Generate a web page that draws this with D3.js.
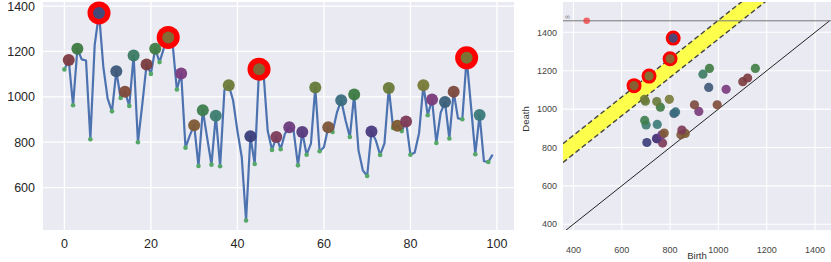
<!DOCTYPE html>
<html><head><meta charset="utf-8">
<script src="https://cdn.jsdelivr.net/npm/d3@7"></script>
<style>
body{margin:0;background:#fff;}
text{font-family:"Liberation Sans",Arial,sans-serif;}
</style></head>
<body><svg id="c" width="831" height="262"></svg>
<script>
// ---- data ----
const series = [1121,1162,963,1212,1165,1160,813,1228,1370,1132,
  992,936,1113,995,1022,960,1182,800,966,1143,
  1101,1212,1153,1215,1262,1238,1032,1103,776,830,
  875,695,941,820,701,917,694,1030,1051,985,
  850,735,455,826,704,1122,1115,850,766,823,
  769,838,866,850,698,845,745,794,1041,760,
  778,866,845,930,985,897,823,1010,764,676,
  651,847,808,744,795,1039,863,873,849,891,
  745,755,840,1051,919,988,797,930,977,816,
  1022,905,901,1172,960,747,920,716,713,745];
const minIdx = [0,2,6,11,13,15,17,20,22,26,28,31,34,36,42,44,48,50,54,56,59,62,66,70,73,76,78,80,84,86,89,92,95,98];
const maxIdx = [1,3,8,12,14,16,19,21,24,27,30,32,35,38,43,45,49,52,55,58,61,64,67,71,75,77,79,83,85,88,90,93,96];
const maxColors = ["#7d3a40","#3d7a40","#3b4d80","#3d5878","#804a38","#3b7a62","#7a3c3c","#3f7d45","#7d7038","#7a3a7d",
  "#7d5a35","#3d7d4d","#3d7d70","#6d7a38","#3a3d7a","#7a6a38","#7d3a58","#6d3a7d","#563a7d","#657a38",
  "#7d5538","#3a6d7d","#3d7a40","#4a3a7d","#687a38","#7d5a30","#7d3a55","#787a38","#7a3a7a","#3a5f7a",
  "#7d4a3d","#757a38","#3a7a78"];
const xTicksL = [0,20,40,60,80,100];
const yTicksL = [600,800,1000,1200,1400];
const ticksR = [400,600,800,1000,1200,1400];
const infValue = 1460;
const bandLow = 365, bandHigh = 463;

// ---- persistence pairs (sublevel filtration) ----
function persistence(v){
  const n=v.length, parent=new Array(n).fill(-1);
  const find=i=>{while(parent[i]!==i){parent[i]=parent[parent[i]];i=parent[i];}return i;};
  const order=d3.range(n).sort((a,b)=>v[a]-v[b]||a-b);
  const pairs=[];
  for(const i of order){
    parent[i]=i;
    const nb=[i-1,i+1].filter(j=>j>=0&&j<n&&parent[j]!==-1).map(find);
    if(nb.length===1){parent[i]=nb[0];}
    else if(nb.length===2){
      let [a,b]=nb; if(v[a]>v[b]||(v[a]===v[b]&&a>b)){[a,b]=[b,a];}
      pairs.push({birth:v[b],death:v[i],maxI:i});
      parent[b]=a; parent[i]=a;
    }
  }
  const g=order[0];
  return {pairs, ess:{birth:v[g]}};
}
const P = persistence(series);
const colorOf = {}; maxIdx.forEach((m,k)=>colorOf[m]=maxColors[k]);
const highlighted = new Set(P.pairs.filter(p=>p.death-p.birth>bandLow).map(p=>p.maxI));

const svg=d3.select("#c");
const bg="#eaeaf2";

// ---- left chart ----
const L={x0:43,x1:514,y0:2,y1:230};
const xL=d3.scaleLinear().domain([-4.95,103.95]).range([L.x0,L.x1]);
const yL=d3.scaleLinear().domain([413,1418]).range([L.y1,L.y0]);
svg.append("rect").attr("x",L.x0).attr("y",L.y0).attr("width",L.x1-L.x0).attr("height",L.y1-L.y0).attr("fill",bg);
const gl=svg.append("g");
gl.selectAll(".gx").data(xTicksL).join("line").attr("x1",d=>xL(d)).attr("x2",d=>xL(d)).attr("y1",L.y0).attr("y2",L.y1).attr("stroke","#fff").attr("stroke-width",1.3);
gl.selectAll(".gy").data(yTicksL).join("line").attr("y1",d=>yL(d)).attr("y2",d=>yL(d)).attr("x1",L.x0).attr("x2",L.x1).attr("stroke","#fff").attr("stroke-width",1.3);
gl.selectAll(".tx").data(xTicksL).join("text").attr("x",d=>xL(d)).attr("y",248).attr("text-anchor","middle").attr("font-size",12.5).attr("fill","#262626").text(d=>d);
gl.selectAll(".ty").data(yTicksL).join("text").attr("x",35).attr("y",d=>yL(d)+4.5).attr("text-anchor","end").attr("font-size",12.5).attr("fill","#262626").text(d=>d);
const clipL=svg.append("clipPath").attr("id","cl").append("rect").attr("x",L.x0).attr("y",L.y0).attr("width",L.x1-L.x0).attr("height",L.y1-L.y0);
const pl=svg.append("g");
pl.append("path").datum(series).attr("d",d3.line().x((d,i)=>xL(i)).y(d=>yL(d))).attr("fill","none").attr("stroke","#4c72b0").attr("stroke-width",2.2).attr("stroke-linejoin","round");
pl.selectAll(".mn").data(minIdx).join("circle").attr("cx",i=>xL(i)).attr("cy",i=>yL(series[i])).attr("r",2.3).attr("fill","#55a868");
pl.selectAll(".hr").data(maxIdx.filter(i=>highlighted.has(i))).join("circle").attr("cx",i=>xL(i)).attr("cy",i=>yL(series[i])).attr("r",11.5).attr("fill","#ff0000");
pl.selectAll(".mx").data(maxIdx).join("circle").attr("cx",i=>xL(i)).attr("cy",i=>yL(series[i])).attr("r",6).attr("fill",i=>colorOf[i]).attr("opacity",0.95);

// ---- right chart (persistence diagram) ----
const R={x0:563,x1:831,y0:2,y1:230};
const xR=d3.scaleLinear().domain([357,1466]).range([R.x0,R.x1]);
const yR=d3.scaleLinear().domain([370,1558]).range([R.y1,R.y0]);
svg.append("rect").attr("x",R.x0).attr("y",R.y0).attr("width",R.x1-R.x0).attr("height",R.y1-R.y0).attr("fill",bg);
svg.append("clipPath").attr("id","cr").append("rect").attr("x",R.x0).attr("y",R.y0).attr("width",R.x1-R.x0).attr("height",R.y1-R.y0);
const gr=svg.append("g");
gr.selectAll(".gx").data(ticksR).join("line").attr("x1",d=>xR(d)).attr("x2",d=>xR(d)).attr("y1",R.y0).attr("y2",R.y1).attr("stroke","#fff").attr("stroke-width",1.1);
gr.selectAll(".gy").data(ticksR).join("line").attr("y1",d=>yR(d)).attr("y2",d=>yR(d)).attr("x1",R.x0).attr("x2",R.x1).attr("stroke","#fff").attr("stroke-width",1.1);
gr.selectAll(".tx").data(ticksR).join("text").attr("x",d=>xR(d)).attr("y",253).attr("text-anchor","middle").attr("font-size",9).attr("fill","#444").text(d=>d);
gr.selectAll(".ty").data(ticksR).join("text").attr("x",557).attr("y",d=>yR(d)+3.2).attr("text-anchor","end").attr("font-size",9).attr("fill","#444").text(d=>d);
svg.append("text").attr("x",697).attr("y",259).attr("text-anchor","middle").attr("font-size",9.5).attr("fill","#333").text("Birth");
svg.append("text").attr("transform","translate(529,119) rotate(-90)").attr("text-anchor","middle").attr("font-size",9.5).attr("fill","#333").text("Death");
const pr=svg.append("g").attr("clip-path","url(#cr)");
const lo=357, hi=1700;
pr.append("path").datum([[lo,lo+bandLow],[hi,hi+bandLow],[hi,hi+bandHigh],[lo,lo+bandHigh]])
  .attr("d",d=>"M"+d.map(p=>[xR(p[0]),yR(p[1])].join(",")).join("L")+"Z").attr("fill","#ffff3a").attr("opacity",0.9);
[bandLow,bandHigh].forEach(o=>{
  pr.append("line").attr("x1",xR(lo)).attr("y1",yR(lo+o)).attr("x2",xR(hi)).attr("y2",yR(hi+o)).attr("stroke","#444").attr("stroke-width",1.4).attr("stroke-dasharray","5,3");
});
pr.append("line").attr("x1",xR(lo)).attr("y1",yR(lo)).attr("x2",xR(infValue)).attr("y2",yR(infValue)).attr("stroke","#222").attr("stroke-width",1);
pr.append("line").attr("x1",R.x0).attr("x2",R.x1).attr("y1",yR(infValue)).attr("y2",yR(infValue)).attr("stroke","#777").attr("stroke-width",1);
pr.append("text").attr("x",565).attr("y",yR(infValue)-1.5).attr("font-size",7).attr("fill","#777").text("∞");
pr.append("circle").attr("cx",xR(P.ess.birth)).attr("cy",yR(infValue)).attr("r",3.3).attr("fill","#f03030").attr("opacity",0.7);
pr.selectAll(".hr").data(P.pairs.filter(p=>highlighted.has(p.maxI))).join("circle").attr("cx",p=>xR(p.birth)).attr("cy",p=>yR(p.death)).attr("r",7.5).attr("fill","#ff0000");
pr.selectAll(".pt").data(P.pairs).join("circle").attr("cx",p=>xR(p.birth)).attr("cy",p=>yR(p.death)).attr("r",4.6).attr("fill",p=>colorOf[p.maxI]||"#555").attr("opacity",0.9);
</script></body></html>
